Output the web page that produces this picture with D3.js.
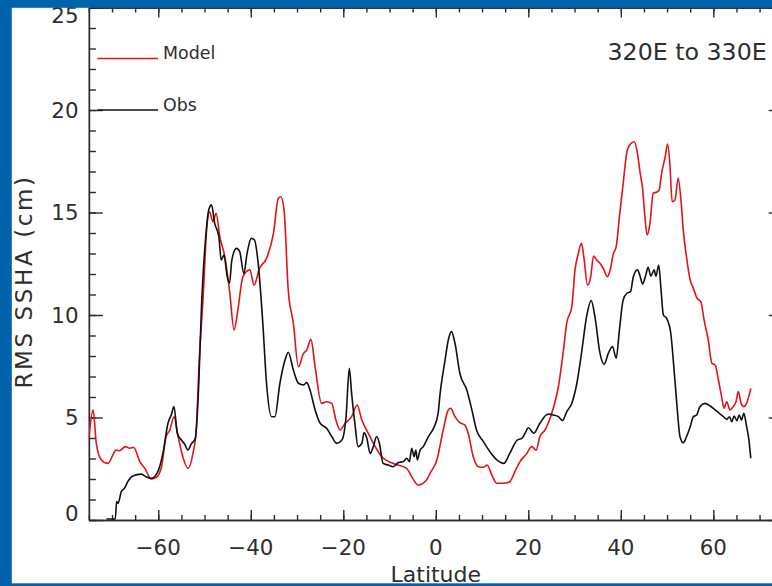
<!DOCTYPE html>
<html>
<head>
<meta charset="utf-8">
<script src="https://cdn.jsdelivr.net/npm/d3@7"></script>
<style>
  html, body { margin: 0; padding: 0; background: #0063ac; }
  svg { display: block; }
  text { font-family: "DejaVu Sans", sans-serif; fill: #2e2e2e; }
</style>
</head>
<body>
<svg id="chart" width="772" height="586"></svg>
<script>
// RMS sea-surface-height anomaly along latitude, 320E to 330E band
const modelLat = [-75.0,-74.1,-73.4,-72.3,-70.9,-69.1,-68.4,-67.1,-66.2,-65.3,-64.0,-62.9,-61.5,-60.4,-59.3,-58.3,-57.5,-56.6,-55.7,-54.7,-53.6,-52.5,-51.8,-51.1,-50.3,-49.6,-48.9,-48.2,-47.5,-46.7,-45.6,-44.6,-43.6,-42.8,-41.7,-40.2,-39.3,-38.1,-36.6,-35.1,-34.05,-33.5,-32.8,-31.9,-30.8,-29.7,-28.6,-27.9,-27.0,-26.1,-24.7,-23.6,-22.5,-21.6,-20.7,-19.6,-18.2,-17.0,-16.0,-14.6,-13.1,-11.7,-9.2,-6.3,-5.2,-3.8,-2.0,-1.2,0.2,1.6,2.7,3.2,4.15,5.2,6.3,7.0,8.1,9.2,10.3,11.1,12.1,13.2,14.6,16.0,17.1,18.2,19.7,20.7,21.7,22.5,23.6,24.3,25.4,26.5,27.6,28.3,29.4,30.1,30.8,31.5,32.0,32.8,33.5,34.1,34.8,35.5,36.2,37.1,37.7,38.4,39.0,39.7,40.5,41.4,42.1,42.9,43.4,44.2,44.7,45.2,45.7,46.3,47.0,47.8,48.3,48.8,49.6,50.1,50.6,51.1,51.7,52.4,53.0,53.5,54.2,55.0,55.7,56.5,57.3,58.0,58.9,59.7,60.4,61.1,61.8,62.3,62.9,63.6,64.3,64.9,65.4,66.0,66.6,67.2,68.1];
const modelRms = [4.0,5.37,3.74,2.93,2.76,3.41,3.38,3.58,3.5,3.54,2.85,2.52,2.0,2.08,2.6,4.07,4.39,5.04,4.07,3.09,2.52,3.25,4.39,7.97,10.9,13.98,15.04,14.55,14.96,13.82,12.84,11.2,9.27,10.24,11.87,12.2,11.46,12.28,12.76,13.98,15.69,15.77,15.1,11.2,9.6,7.48,8.13,8.29,8.81,7.48,5.69,5.77,5.69,4.88,4.39,4.72,5.04,5.61,4.88,4.23,3.58,3.09,2.76,2.52,2.11,1.71,1.95,2.3,2.9,4.39,5.37,5.45,5.04,4.75,4.63,4.23,3.09,2.6,2.57,2.68,2.2,1.79,1.79,1.87,2.36,2.85,3.25,3.58,3.41,4.07,4.39,4.72,5.45,6.5,8.29,9.6,10.4,12.2,13.0,13.5,12.84,11.46,11.87,12.88,12.68,12.52,12.28,11.87,12.2,13.0,13.33,14.8,16.4,18.05,18.34,18.45,18.13,16.9,16.18,14.8,13.9,14.47,15.94,16.0,16.1,16.9,17.72,18.34,17.4,15.53,15.6,16.67,15.6,14.15,12.84,11.71,11.3,10.81,10.65,9.76,8.78,7.64,7.56,6.83,6.01,5.45,5.77,5.37,5.53,5.77,6.26,5.69,5.53,5.69,6.42];

const obsLat = [-71.2,-69.3,-69.0,-68.7,-68.0,-67.3,-66.6,-65.5,-63.7,-62.6,-61.5,-60.1,-59.0,-57.9,-57.2,-56.6,-55.9,-55.0,-54.3,-53.6,-52.9,-52.0,-51.3,-50.6,-49.8,-49.1,-48.5,-47.8,-46.9,-46.4,-45.8,-45.1,-44.6,-44.1,-43.1,-42.4,-41.5,-40.8,-39.9,-39.2,-38.4,-37.4,-36.6,-35.5,-34.8,-33.7,-32.6,-31.9,-30.8,-29.7,-28.6,-27.9,-27.2,-26.1,-25.0,-23.6,-22.5,-21.4,-20.3,-19.4,-18.7,-18.2,-17.5,-16.8,-16.0,-15.5,-14.9,-14.2,-13.5,-12.8,-12.2,-11.4,-10.3,-9.2,-8.1,-7.0,-6.3,-5.7,-5.2,-4.7,-4.3,-4.0,-3.4,-2.7,-1.6,-0.5,0.5,0.9,2.0,2.7,3.4,4.15,5.2,6.7,7.8,8.8,10.3,11.7,13.2,14.7,16.0,17.6,18.6,19.3,20.0,21.2,22.5,24.3,25.4,26.5,27.4,28.3,29.4,30.5,31.5,32.6,33.6,34.4,35.5,36.4,37.3,38.2,39.0,39.7,40.5,41.3,42.1,42.7,43.6,44.2,44.7,45.4,45.9,46.5,47.2,47.6,48.2,48.7,49.2,49.9,50.8,51.4,52.1,52.8,53.5,54.2,55.0,55.7,56.4,57.1,58.2,59.3,60.4,61.3,62.2,62.9,63.5,64.0,64.5,65.1,65.6,66.1,66.6,67.2,67.7,68.1];
const obsRms = [0.05,0.05,0.9,0.81,1.38,1.55,1.87,2.15,2.24,2.11,2.03,2.36,3.25,4.72,5.12,5.53,4.23,3.9,3.7,3.41,3.7,3.98,6.34,10.73,13.66,15.12,15.37,14.47,13.82,12.68,12.93,11.87,11.55,12.68,13.25,13.09,12.03,13.01,13.74,13.66,12.52,9.6,6.67,5.04,5.04,6.67,7.8,8.18,7.32,6.67,6.59,6.7,6.34,5.37,4.72,4.47,4.07,3.74,3.9,5.04,7.4,6.18,4.72,3.58,3.74,4.26,3.98,3.25,3.58,4.07,3.74,2.76,2.68,2.6,2.8,2.85,3.01,2.85,3.5,3.09,3.41,2.93,3.41,3.58,4.07,4.47,5.2,6.1,7.8,8.78,9.19,8.62,7.16,6.34,5.37,4.39,3.82,3.33,2.93,2.76,3.25,3.9,3.98,4.23,4.5,4.23,4.72,5.17,5.12,5.04,4.85,5.28,5.69,6.67,8.13,9.92,10.7,9.92,8.13,7.6,8.13,8.46,7.89,9.27,10.73,11.06,11.14,11.87,12.2,11.87,11.51,11.95,12.33,11.9,12.2,11.9,12.44,11.22,10.0,9.84,9.11,7.64,5.69,4.06,3.77,4.06,4.55,5.04,5.12,5.53,5.69,5.56,5.37,5.2,5.04,4.91,5.04,4.8,5.07,4.85,5.12,4.88,5.2,4.55,3.9,3.01];

// Axis ticks and labels
const xMajor = [-60, -40, -20, 0, 20, 40, 60];
const xMinor = d3.range(-75, 76, 5);
const yMajor = [0, 5, 10, 15, 20, 25];
const yMinor = d3.range(0, 26, 1);

const series = [
  { name: "Model", lat: modelLat, rms: modelRms, color: "#e0141a" },
  { name: "Obs",   lat: obsLat,   rms: obsRms,   color: "#111111" }
];

const svg = d3.select("#chart");
const W = 772, H = 586;

const x = d3.scaleLinear().domain([-75, 75]).range([88.9, 782.7]);
const y = d3.scaleLinear().domain([0, 25]).range([520, 7.5]);

svg.append("rect").attr("x", 0).attr("y", 0).attr("width", W).attr("height", H).attr("fill", "#ffffff");

const axisColor = "#2a2a2a";
function styleAxis(g) {
  g.selectAll("path.domain").attr("stroke", axisColor).attr("stroke-width", 1.4);
  g.selectAll(".tick line").attr("stroke", axisColor).attr("stroke-width", 1.4);
  g.selectAll("text").remove();
}

// minor ticks first, then major ticks on top
svg.append("g").attr("transform", `translate(0,${y(0)})`)
  .call(d3.axisBottom(x).tickValues(xMinor).tickSizeInner(-5).tickSizeOuter(0)).call(styleAxis);
svg.append("g").attr("transform", `translate(0,${y(0)})`)
  .call(d3.axisBottom(x).tickValues(xMajor).tickSizeInner(-10).tickSizeOuter(0)).call(styleAxis);
svg.append("g").attr("transform", `translate(0,${y(25)})`)
  .call(d3.axisTop(x).tickValues(xMinor).tickSizeInner(-5).tickSizeOuter(0)).call(styleAxis);
svg.append("g").attr("transform", `translate(0,${y(25)})`)
  .call(d3.axisTop(x).tickValues(xMajor).tickSizeInner(-10).tickSizeOuter(0)).call(styleAxis);

svg.append("g").attr("transform", `translate(${x(-75)},0)`)
  .call(d3.axisLeft(y).tickValues(yMinor).tickSizeInner(-7).tickSizeOuter(0)).call(styleAxis);
svg.append("g").attr("transform", `translate(${x(-75)},0)`)
  .call(d3.axisLeft(y).tickValues(yMajor).tickSizeInner(-14).tickSizeOuter(0)).call(styleAxis);
svg.append("g").attr("transform", `translate(${x(75)},0)`)
  .call(d3.axisRight(y).tickValues(yMinor).tickSizeInner(-7).tickSizeOuter(0)).call(styleAxis);
svg.append("g").attr("transform", `translate(${x(75)},0)`)
  .call(d3.axisRight(y).tickValues(yMajor).tickSizeInner(-14).tickSizeOuter(0)).call(styleAxis);

// tick labels
const fmt = d => (d < 0 ? "\u2212" + Math.abs(d) : String(d));
svg.append("g").selectAll("text").data(xMajor).join("text")
  .attr("x", d => x(d)).attr("y", 554.5)
  .attr("text-anchor", "middle").attr("font-size", 21.4)
  .text(fmt);

svg.append("g").selectAll("text").data(yMajor).join("text")
  .attr("x", 78.5)
  .attr("y", d => d === 0 ? y(d) + 1 : d === 25 ? y(d) + 15.2 : y(d) + 7.6)
  .attr("text-anchor", "end").attr("font-size", 21.4)
  .text(fmt);

// axis titles
svg.append("text").attr("x", 435.8).attr("y", 582)
  .attr("text-anchor", "middle").attr("font-size", 22).text("Latitude");
svg.append("text")
  .attr("transform", `translate(31.7,281.5) rotate(-90)`)
  .attr("text-anchor", "middle").attr("font-size", 23).attr("letter-spacing", 2.6)
  .text("RMS SSHA (cm)");

// region label
svg.append("text").attr("x", 607.5).attr("y", 60)
  .attr("font-size", 23.7).text("320E to 330E");

// data curves
const line = d3.line().curve(d3.curveMonotoneX);
svg.append("defs").append("clipPath").attr("id", "plotArea")
  .append("rect").attr("x", x(-75)).attr("y", y(25)).attr("width", x(75) - x(-75)).attr("height", y(0) - y(25));

svg.append("g").attr("clip-path", "url(#plotArea)").selectAll("path").data(series).join("path")
  .attr("fill", "none")
  .attr("stroke", d => d.color)
  .attr("stroke-width", 1.6)
  .attr("stroke-linejoin", "round")
  .attr("d", d => line(d.lat.map((v, i) => [x(v), y(d.rms[i])])));

// legend
const legendY = [58.5, 110];
const legend = svg.append("g").selectAll("g").data(series).join("g")
  .attr("transform", (d, i) => `translate(0,${legendY[i]})`);
legend.append("line").attr("x1", 97.5).attr("x2", 158).attr("y1", 0).attr("y2", 0)
  .attr("stroke", d => d.color).attr("stroke-width", 1.5);
legend.append("text").attr("x", 163).attr("y", 0.5).attr("font-size", 17.4).text(d => d.name);

// blue frame around the plot page
svg.append("rect").attr("x", 0).attr("y", 0).attr("width", W).attr("height", 7.8).attr("fill", "#0063ac");
svg.append("rect").attr("x", 0).attr("y", 0).attr("width", 11.8).attr("height", H).attr("fill", "#0063ac");
svg.append("rect").attr("x", 0).attr("y", 583.3).attr("width", W).attr("height", H - 583.3).attr("fill", "#0063ac");
</script>
</body>
</html>
